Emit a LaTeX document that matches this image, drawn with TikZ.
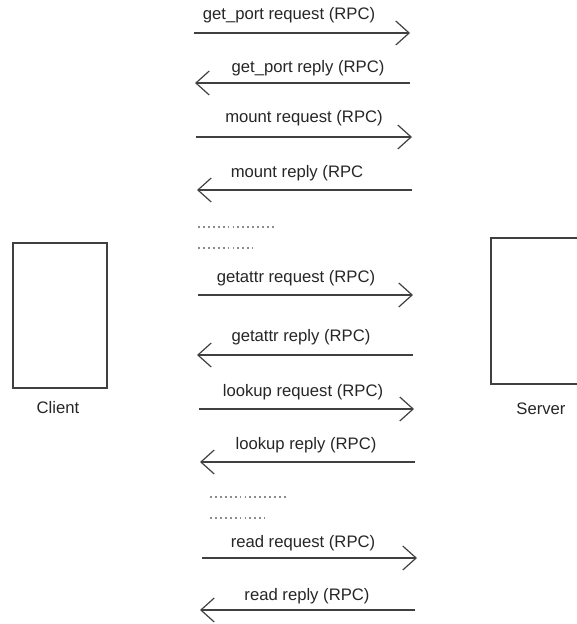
\documentclass[tikz,border=0pt]{standalone}
\usepackage{fontspec}
\setmainfont{Liberation Sans}
\usetikzlibrary{arrows.meta}

\tikzset{
	msg/.style={draw=black!75, line width=1.1pt, -{Straight Barb[length=10pt,width=18pt,line width=0.9pt]}},
	lbl/.style={text=black!85, font=\fontsize{12.5}{15}\selectfont, inner sep=0pt},
	gap/.style={draw=black!45, line width=1.2pt, dash pattern=on 1.4pt off 2.3pt},
	host/.style={draw=black!75, line width=1.1pt, inner sep=0pt}
}

\begin{document}
\begin{tikzpicture}[x=0.75pt,y=-0.75pt]
		\clip (0,0) rectangle (577,624);

		% the two machines
		\node [host, minimum width=70.5pt, minimum height=108.75pt] (client) at (60,315.5) {};
		\node [lbl] (clientname) at (58,408) {Client};
		\node [host, minimum width=69pt, minimum height=109.5pt] (server) at (537,311) {};
		\node [lbl] (servername) at (541,409) {Server};

		% get_port
		\coordinate (gpa) at (194,33);
		\coordinate (gpb) at (410,33);
		\draw [msg] (gpa) -- (gpb);
		\node [lbl] (gpreq) at (289,15) {get\_port request (RPC)};
		\coordinate (gpc) at (410,83);
		\coordinate (gpd) at (195,83);
		\draw [msg] (gpc) -- (gpd);
		\node [lbl] (gprep) at (308,68) {get\_port reply (RPC)};

		% mount
		\coordinate (mta) at (196,137);
		\coordinate (mtb) at (412,137);
		\draw [msg] (mta) -- (mtb);
		\node [lbl] (mtreq) at (304,118) {mount request (RPC)};
		\coordinate (mtc) at (412,190);
		\coordinate (mtd) at (197,190);
		\draw [msg] (mtc) -- (mtd);
		\node [lbl] (mtrep) at (297,173) {mount reply (RPC};

		% skipped calls
		\coordinate (ga) at (198,227);
		\coordinate (gb) at (275,227);
		\draw [gap] (ga) -- (gb);
		\coordinate (gc) at (198,248);
		\coordinate (gd) at (253,248);
		\draw [gap] (gc) -- (gd);

		% getattr
		\coordinate (gaa) at (198,295);
		\coordinate (gab) at (413,295);
		\draw [msg] (gaa) -- (gab);
		\node [lbl] (gareq) at (296,278) {getattr request (RPC)};
		\coordinate (gac) at (413,355);
		\coordinate (gad) at (197,355);
		\draw [msg] (gac) -- (gad);
		\node [lbl] (garep) at (301,337) {getattr reply (RPC)};

		% lookup
		\coordinate (lka) at (199,409);
		\coordinate (lkb) at (414,409);
		\draw [msg] (lka) -- (lkb);
		\node [lbl] (lkreq) at (303,392) {lookup request (RPC)};
		\coordinate (lkc) at (415,462);
		\coordinate (lkd) at (200,462);
		\draw [msg] (lkc) -- (lkd);
		\node [lbl] (lkrep) at (306,445) {lookup reply (RPC)};

		% skipped calls
		\coordinate (ge) at (210,497);
		\coordinate (gf) at (287,497);
		\draw [gap] (ge) -- (gf);
		\coordinate (gg) at (210,518);
		\coordinate (gh) at (265,518);
		\draw [gap] (gg) -- (gh);

		% read
		\coordinate (rda) at (202,558);
		\coordinate (rdb) at (417,558);
		\draw [msg] (rda) -- (rdb);
		\node [lbl] (rdreq) at (303,543) {read request (RPC)};
		\coordinate (rdc) at (415,610);
		\coordinate (rdd) at (200,610);
		\draw [msg] (rdc) -- (rdd);
		\node [lbl] (rdrep) at (307,596) {read reply (RPC)};
	\end{tikzpicture}
\end{document}
